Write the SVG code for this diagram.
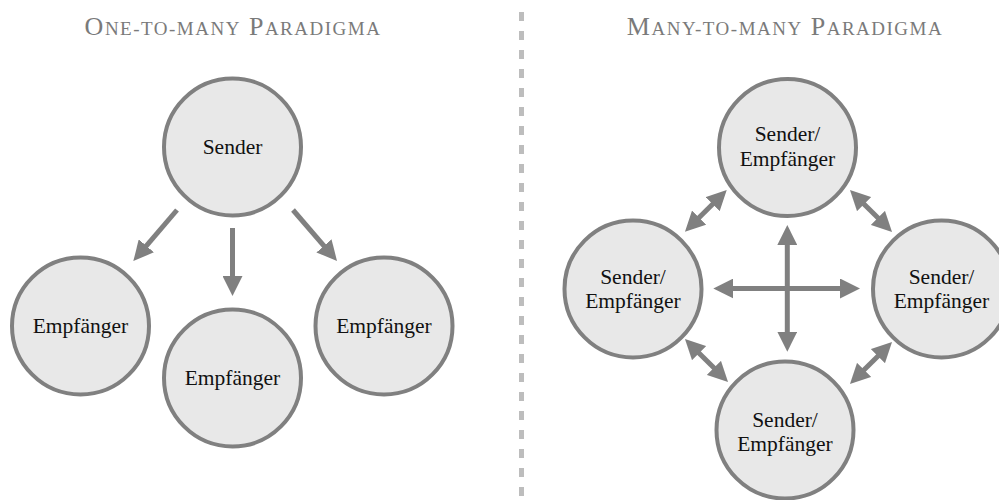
<svg xmlns="http://www.w3.org/2000/svg" width="999" height="500" viewBox="0 0 999 500">
<style>
.node circle{fill:#e8e8e8;stroke:#808080;stroke-width:4}
.lbl{font-family:"Liberation Serif","Times New Roman",serif;font-size:21.5px;fill:#111;text-anchor:middle}
.title{font-family:"Liberation Serif","Times New Roman",serif;fill:#7a7a7a;text-anchor:middle;letter-spacing:1.5px}
.big{font-size:26px}
.sm{font-size:19px}
.arr{stroke:#808080;stroke-width:5;fill:none;marker-end:url(#ah)}
.dbl{marker-start:url(#ah)}
</style>
<defs>
<marker id="ah" viewBox="0 0 20 20" refX="1" refY="10" markerWidth="20" markerHeight="20" markerUnits="userSpaceOnUse" orient="auto-start-reverse">
<path d="M0,0 L20,10 L0,20 z" fill="#808080"/>
</marker>
</defs>
<rect width="999" height="500" fill="#ffffff"/>
<line x1="521.5" y1="12" x2="521.5" y2="500" stroke="#bdbdbd" stroke-width="5" stroke-dasharray="9 10"/>
<text class="title" x="233" y="35"><tspan class="big">O</tspan><tspan class="sm">NE-TO-MANY</tspan><tspan class="big"> P</tspan><tspan class="sm">ARADIGMA</tspan></text>
<text class="title" x="785" y="35"><tspan class="big">M</tspan><tspan class="sm">ANY-TO-MANY</tspan><tspan class="big"> P</tspan><tspan class="sm">ARADIGMA</tspan></text>
<g id="connectors">
<line class="arr" x1="177" y1="210" x2="145.7" y2="246.6"/>
<line class="arr" x1="232.5" y1="228" x2="232.5" y2="277"/>
<line class="arr" x1="293" y1="210" x2="324.6" y2="246.6"/>
<line class="arr dbl" x1="732.3" y1="288.5" x2="841" y2="288.5"/>
<line class="arr dbl" x1="787.3" y1="244" x2="787.3" y2="332.7"/>
<line class="arr dbl" x1="698.4" y1="218.3" x2="713.3" y2="203.4"/>
<line class="arr dbl" x1="863.4" y1="203.4" x2="878.6" y2="218.6"/>
<line class="arr dbl" x1="698.4" y1="352.4" x2="714.6" y2="368.6"/>
<line class="arr dbl" x1="863.4" y1="370.6" x2="878.6" y2="355.4"/>
</g>
<g id="sender" class="node"><circle cx="232.5" cy="147" r="68.5"/><text class="lbl" x="232.5" y="154">Sender</text></g>
<g id="empf1" class="node"><circle cx="80.5" cy="326" r="68.5"/><text class="lbl" x="80.5" y="333">Empfänger</text></g>
<g id="empf2" class="node"><circle cx="232.5" cy="378" r="68.5"/><text class="lbl" x="232.5" y="385">Empfänger</text></g>
<g id="empf3" class="node"><circle cx="384" cy="326" r="68.5"/><text class="lbl" x="384" y="333">Empfänger</text></g>
<g id="se_top" class="node"><circle cx="787.5" cy="147.5" r="68.5"/><text class="lbl" x="787.5" y="141">Sender/</text><text class="lbl" x="787.5" y="165.5">Empfänger</text></g>
<g id="se_left" class="node"><circle cx="633" cy="289" r="68.5"/><text class="lbl" x="633" y="283.5">Sender/</text><text class="lbl" x="633" y="308">Empfänger</text></g>
<g id="se_right" class="node"><circle cx="941.5" cy="289" r="68.5"/><text class="lbl" x="941.5" y="283.5">Sender/</text><text class="lbl" x="941.5" y="308">Empfänger</text></g>
<g id="se_bottom" class="node"><circle cx="785" cy="430" r="68.5"/><text class="lbl" x="785" y="426.5">Sender/</text><text class="lbl" x="785" y="450.5">Empfänger</text></g>
</svg>
